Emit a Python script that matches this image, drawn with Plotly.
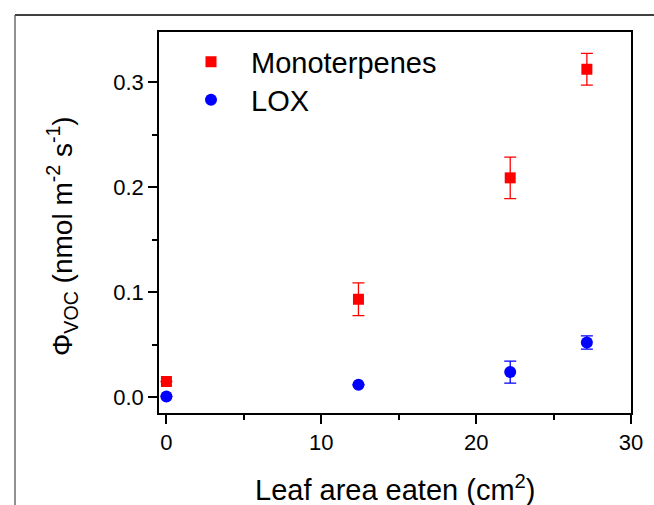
import plotly.graph_objects as go

# Data
leaf_area = [0, 12.4, 22.2, 27.15]
mono_vals = [0.0148, 0.0932, 0.2089, 0.3124]
mono_err = [0.0, 0.0156, 0.0198, 0.0152]
lox_vals = [0.0006, 0.0117, 0.0238, 0.0520]
lox_err = [0.0, 0.0, 0.0105, 0.0063]

x_ticks = [0, 10, 20, 30]
y_ticks = [0.0, 0.1, 0.2, 0.3]
y_tick_text = ["0.0", "0.1", "0.2", "0.3"]

FONT = "Arial, Liberation Sans, Helvetica, sans-serif"

fig = go.Figure()
fig.add_trace(go.Scatter(
    x=leaf_area, y=mono_vals, mode="markers", name="Monoterpenes",
    marker=dict(symbol="square", size=11, color="#ff0000"),
    error_y=dict(type="data", array=mono_err, color="#ff0000", thickness=1.3, width=6),
    legend="legend",
))
fig.add_trace(go.Scatter(
    x=leaf_area, y=lox_vals, mode="markers", name="LOX",
    marker=dict(symbol="circle", size=12, color="#0000ff"),
    error_y=dict(type="data", array=lox_err, color="#0000ff", thickness=1.3, width=6),
    legend="legend2",
))

L, R, T, B = 159, 23, 32, 92
W, H = 654, 505
pw = W - L - R
ph = H - T - B

def px_x(px):
    return (px - L) / pw

def px_y(py):
    return (H - B - py) / ph

legend_common = dict(
    xanchor="left", yanchor="middle",
    font=dict(size=29, family=FONT, color="black"),
    bgcolor="rgba(0,0,0,0)", itemwidth=70,
)

fig.update_layout(
    width=W, height=H,
    margin=dict(l=L, r=R, t=T, b=B, pad=0),
    paper_bgcolor="white", plot_bgcolor="white",
    font=dict(family=FONT, color="black"),
    showlegend=True,
    legend=dict(x=px_x(171), y=px_y(62), **legend_common),
    legend2=dict(x=px_x(171), y=px_y(100), **legend_common),
    xaxis=dict(
        range=[-0.48, 30], tickvals=x_ticks, ticktext=[str(v) for v in x_ticks],
        ticks="outside", ticklen=9, tickwidth=1.5, tickcolor="black",
        minor=dict(tickvals=[5, 15, 25], ticks="outside", ticklen=5, tickwidth=1.5, tickcolor="black"),
        showline=True, linecolor="black", linewidth=1.5, mirror=True,
        showgrid=False, zeroline=False,
        tickfont=dict(size=22, family=FONT, color="black"),
    ),
    yaxis=dict(
        range=[-0.0152, 0.3479], tickvals=y_ticks, ticktext=y_tick_text,
        ticks="outside", ticklen=9, tickwidth=1.5, tickcolor="black",
        minor=dict(tickvals=[0.05, 0.15, 0.25], ticks="outside", ticklen=5, tickwidth=1.5, tickcolor="black"),
        showline=True, linecolor="black", linewidth=1.5, mirror=True,
        showgrid=False, zeroline=False,
        tickfont=dict(size=22, family=FONT, color="black"),
    ),
    shapes=[
        dict(type="line", xref="paper", yref="paper",
             x0=px_x(15), x1=px_x(660), y0=px_y(15), y1=px_y(15),
             line=dict(color="black", width=1.3)),
        dict(type="line", xref="paper", yref="paper",
             x0=px_x(15), x1=px_x(15), y0=px_y(15), y1=px_y(520),
             line=dict(color="#555555", width=1.3)),
    ],
    annotations=[
        dict(text="Leaf area eaten (cm<sup>2</sup>)", xref="paper", yref="paper",
             x=0.5, y=px_y(488), xanchor="center", yanchor="middle", showarrow=False,
             font=dict(size=29, family=FONT, color="black")),
        dict(text="Φ<sub>VOC</sub> (nmol m<sup>-2</sup> s<sup>-1</sup>)", xref="paper", yref="paper",
             x=px_x(62), y=px_y(236), xanchor="center", yanchor="middle", showarrow=False,
             textangle=-90, font=dict(size=28, family=FONT, color="black")),
    ],
)

fig.write_html(
    "out.html",
    config={"displayModeBar": False},
    post_script="document.body.style.margin='0';document.body.style.overflow='hidden';",
)
